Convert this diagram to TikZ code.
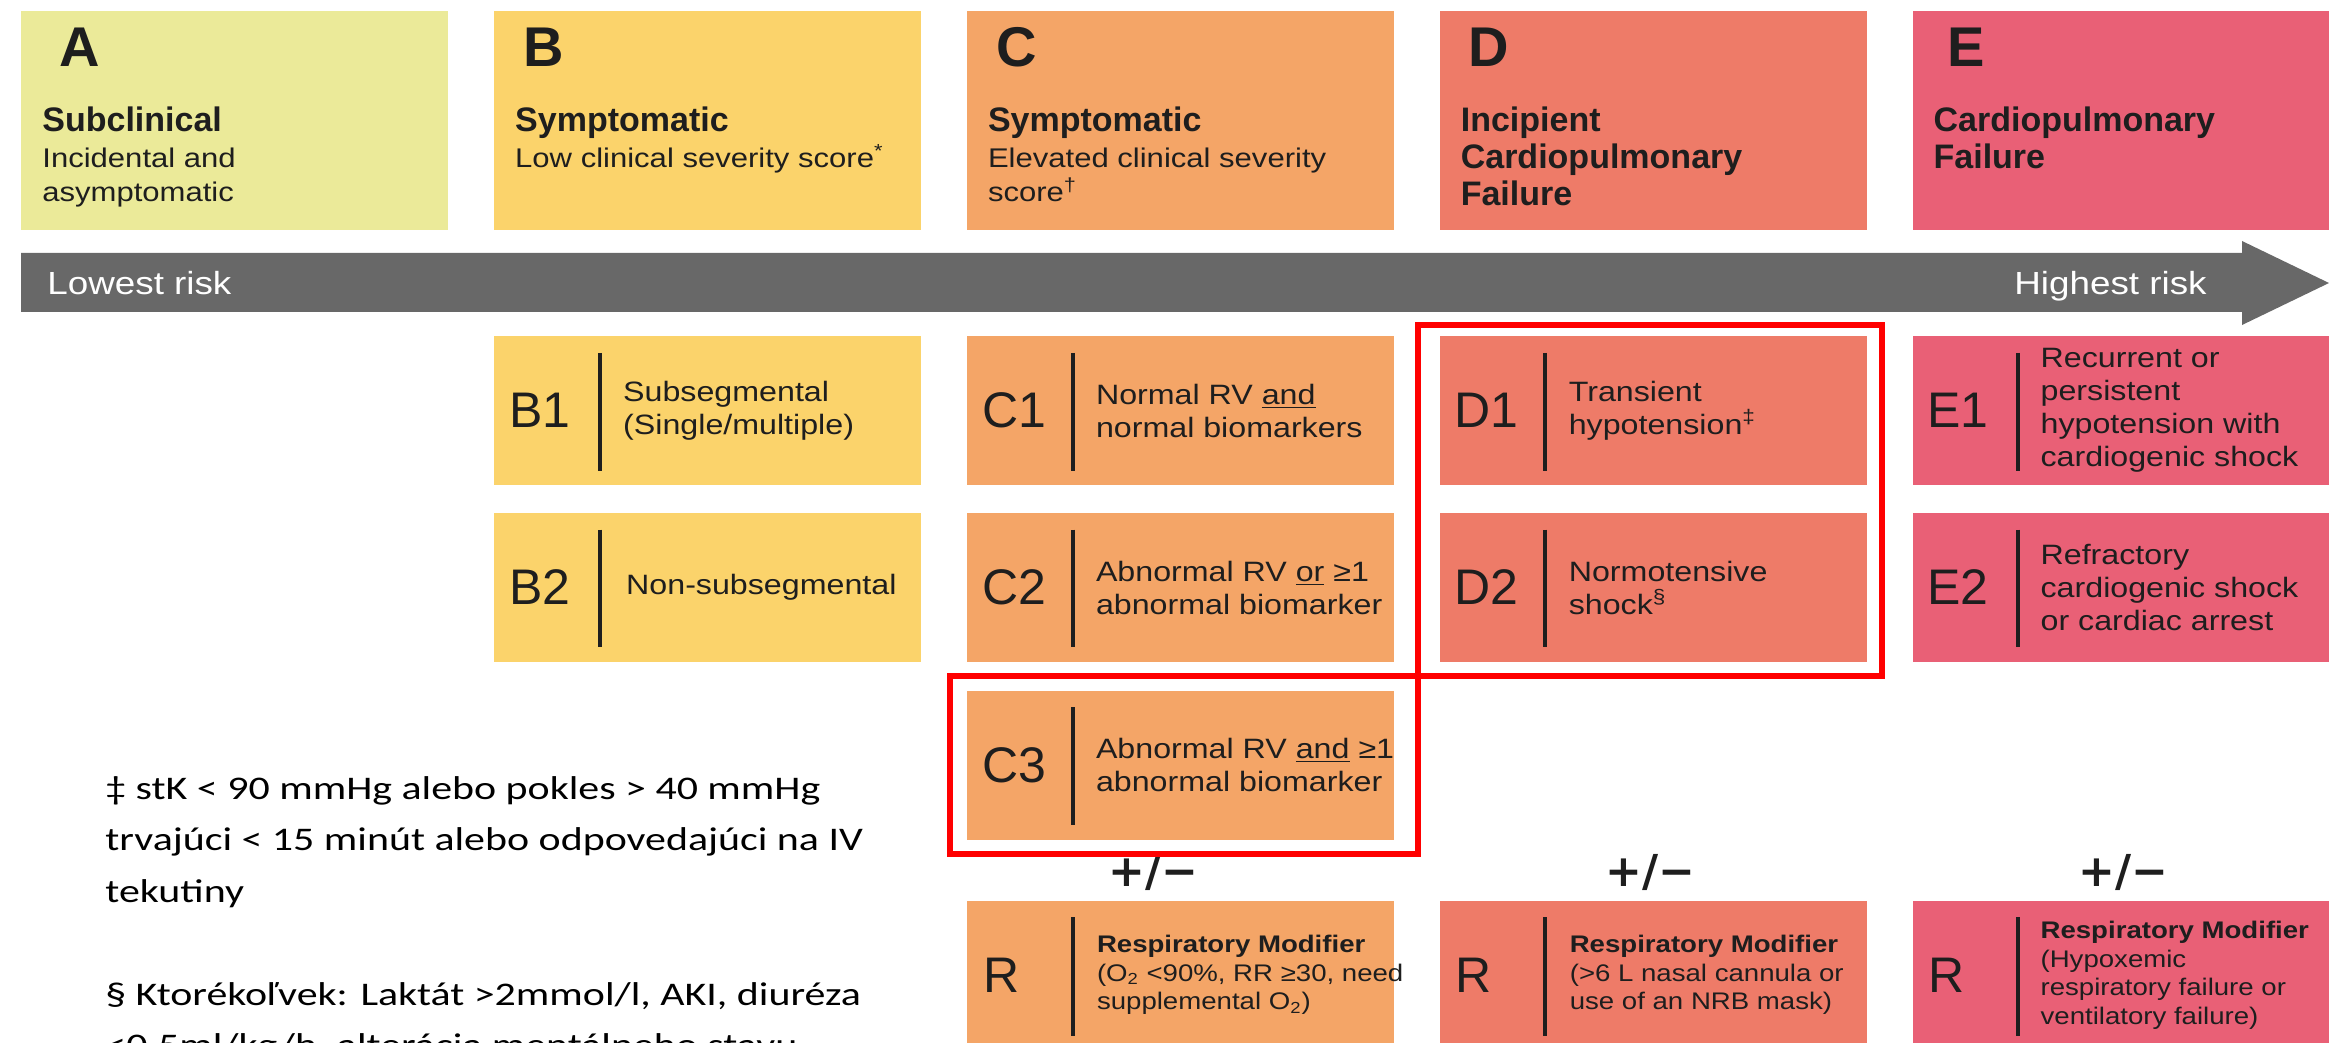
\documentclass[tikz,border=0pt]{standalone}
\usepackage{fontspec}
\setmainfont{Liberation Sans}
\newfontfamily\widesans{Liberation Sans}[FakeStretch=1.15]
\newfontfamily\notefont{Carlito}[FakeStretch=1.27]
\newfontfamily\pmfont{DejaVu Sans}
\usetikzlibrary{positioning}

\definecolor{colA}{HTML}{EBEA99}
\definecolor{colB}{HTML}{FBD36B}
\definecolor{colC}{HTML}{F4A567}
\definecolor{colD}{HTML}{EE7B68}
\definecolor{colE}{HTML}{E96076}
\definecolor{riskgray}{HTML}{686868}
\definecolor{ink}{HTML}{1E1E1E}

\begin{document}
\begin{tikzpicture}[x=0.5pt, y=-0.5pt, node distance=22.5pt]
    \tikzstyle{head} = [rectangle, inner sep=0pt, minimum width=213.5pt, minimum height=109.5pt]
    \tikzstyle{rowbox} = [rectangle, inner sep=0pt, minimum width=213.5pt, minimum height=74.5pt]
    \tikzstyle{letter} = [anchor=base west, inner sep=0pt, text=ink, font=\fontsize{28pt}{30pt}\selectfont\bfseries]
    \tikzstyle{title} = [anchor=base west, inner sep=0pt, align=left, text=ink, font=\fontsize{17pt}{18.5pt}\selectfont\bfseries]
    \tikzstyle{subtitle} = [anchor=base west, inner sep=0pt, align=left, text=ink, font=\widesans\fontsize{13.5pt}{17pt}\selectfont]
    \tikzstyle{tag} = [anchor=west, inner sep=0pt, text=ink, font=\fontsize{25pt}{27pt}\selectfont]
    \tikzstyle{vbar} = [line width=2pt, draw=ink]
    \tikzstyle{desc} = [anchor=west, inner sep=0pt, align=left, text=ink, font=\widesans\fontsize{14pt}{16.5pt}\selectfont]
    \tikzstyle{rdesc} = [desc, font=\widesans\fontsize{12pt}{14.25pt}\selectfont]
    \tikzstyle{pm} = [inner sep=0pt, text=ink, font=\pmfont\fontsize{22pt}{24pt}\selectfont\bfseries]
    \tikzstyle{redframe} = [draw=red, line width=3pt]
    \tikzstyle{risk} = [anchor=base west, inner sep=0pt, text=white, font=\widesans\fontsize{16pt}{18pt}\selectfont]
    \tikzstyle{note} = [anchor=base west, inner sep=0pt, align=left, font=\notefont\fontsize{16.5pt}{25.75pt}\selectfont]

    \useasboundingbox (0,0) rectangle (2329,1043);
    \clip (0,0) rectangle (2329,1043);
    \fill [white] (0,0) rectangle (2329,1043);

    % stages (multi-line texts sit on the baseline of their last line)
    \node [head, fill=colA, anchor=north west] (A) at (21,11) {};
    \node [head, fill=colB, right=of A] (B) {};
    \node [head, fill=colC, right=of B] (C) {};
    \node [head, fill=colD, right=of C] (D) {};
    \node [head, fill=colE, right=of D] (E) {};

    \node [letter] at ([xshift=19pt, yshift=-28pt]A.north west) {A};
    \node [title] at ([xshift=10.5pt, yshift=-60.5pt]A.north west) {Subclinical};
    \node [subtitle] at ([xshift=10.5pt, yshift=-95.5pt]A.north west) {Incidental and\\asymptomatic};

    \node [letter] at ([xshift=14.5pt, yshift=-28pt]B.north west) {B};
    \node [title] at ([xshift=10.5pt, yshift=-60.5pt]B.north west) {Symptomatic};
    \node [subtitle] at ([xshift=10.5pt, yshift=-78.5pt]B.north west) {Low clinical severity score\textsuperscript{*}};

    \node [letter] at ([xshift=14.5pt, yshift=-28pt]C.north west) {C};
    \node [title] at ([xshift=10.5pt, yshift=-60.5pt]C.north west) {Symptomatic};
    \node [subtitle] at ([xshift=10.5pt, yshift=-95.5pt]C.north west) {Elevated clinical severity\\score\textsuperscript{†}};

    \node [letter] at ([xshift=14.5pt, yshift=-28pt]D.north west) {D};
    \node [title] at ([xshift=10.5pt, yshift=-97.5pt]D.north west) {Incipient\\Cardiopulmonary\\Failure};

    \node [letter] at ([xshift=17.5pt, yshift=-28pt]E.north west) {E};
    \node [title] at ([xshift=10.5pt, yshift=-79pt]E.north west) {Cardiopulmonary\\Failure};

    % risk arrow
    \fill [riskgray] (21,253) -- (2242,253) -- (2242,241) -- (2329,283) -- (2242,325) -- (2242,312) -- (21,312) -- cycle;
    \node [risk] (low) at (47,294) {Lowest risk};
    \node [risk, anchor=base east] (high) at (2207,294) {Highest risk};

    % subclasses
    \node [rowbox, fill=colB, below=52.5pt of B] (b1) {};
    \node [rowbox, fill=colB, below=13.5pt of b1] (b2) {};
    \node [rowbox, fill=colC, below=52.5pt of C] (c1) {};
    \node [rowbox, fill=colC, below=13.5pt of c1] (c2) {};
    \node [rowbox, fill=colC, below=14pt of c2] (c3) {};
    \node [rowbox, fill=colD, below=52.5pt of D] (d1) {};
    \node [rowbox, fill=colD, below=13.5pt of d1] (d2) {};
    \node [rowbox, fill=colE, below=52.5pt of E] (e1) {};
    \node [rowbox, fill=colE, below=13.5pt of e1] (e2) {};
    \node [rowbox, fill=colC, below=30pt of c3] (rc) {};
    \node [rowbox, fill=colD, right=of rc] (rd) {};
    \node [rowbox, fill=colE, right=of rd] (re) {};

    \node [tag] at ([xshift=7.5pt]b1.west) {B1};
    \draw [vbar] ([xshift=53pt, yshift=-8.5pt]b1.north west) -- ([xshift=53pt, yshift=7.5pt]b1.south west);
    \node [desc] at ([xshift=64.5pt]b1.west) {Subsegmental\\(Single/multiple)};

    \node [tag] at ([xshift=7.5pt]b2.west) {B2};
    \draw [vbar] ([xshift=53pt, yshift=-8.5pt]b2.north west) -- ([xshift=53pt, yshift=7.5pt]b2.south west);
    \node [desc] at ([xshift=66pt]b2.west) {Non-subsegmental};

    \node [tag] at ([xshift=7.5pt]c1.west) {C1};
    \draw [vbar] ([xshift=53pt, yshift=-8.5pt]c1.north west) -- ([xshift=53pt, yshift=7.5pt]c1.south west);
    \node [desc] at ([xshift=64.5pt]c1.west) {Normal RV \underline{and}\\normal biomarkers};

    \node [tag] at ([xshift=7.5pt]c2.west) {C2};
    \draw [vbar] ([xshift=53pt, yshift=-8.5pt]c2.north west) -- ([xshift=53pt, yshift=7.5pt]c2.south west);
    \node [desc] at ([xshift=64.5pt]c2.west) {Abnormal RV \underline{or} ≥1\\abnormal biomarker};

    \node [tag] at ([xshift=7.5pt]c3.west) {C3};
    \draw [vbar] ([xshift=53pt, yshift=-8.5pt]c3.north west) -- ([xshift=53pt, yshift=7.5pt]c3.south west);
    \node [desc] at ([xshift=64.5pt]c3.west) {Abnormal RV \underline{and} ≥1\\abnormal biomarker};

    \node [tag] at ([xshift=7.5pt]d1.west) {D1};
    \draw [vbar] ([xshift=53pt, yshift=-8.5pt]d1.north west) -- ([xshift=53pt, yshift=7.5pt]d1.south west);
    \node [desc] at ([xshift=64.5pt]d1.west) {Transient\\hypotension\textsuperscript{‡}};

    \node [tag] at ([xshift=7.5pt]d2.west) {D2};
    \draw [vbar] ([xshift=53pt, yshift=-8.5pt]d2.north west) -- ([xshift=53pt, yshift=7.5pt]d2.south west);
    \node [desc] at ([xshift=64.5pt]d2.west) {Normotensive\\shock\textsuperscript{§}};

    \node [tag] at ([xshift=7.5pt]e1.west) {E1};
    \draw [vbar] ([xshift=53pt, yshift=-8.5pt]e1.north west) -- ([xshift=53pt, yshift=7.5pt]e1.south west);
    \node [desc] at ([xshift=64pt]e1.west) {Recurrent or\\persistent\\hypotension with\\cardiogenic shock};

    \node [tag] at ([xshift=7.5pt]e2.west) {E2};
    \draw [vbar] ([xshift=53pt, yshift=-8.5pt]e2.north west) -- ([xshift=53pt, yshift=7.5pt]e2.south west);
    \node [desc] at ([xshift=64pt]e2.west) {Refractory\\cardiogenic shock\\or cardiac arrest};

    % respiratory modifier
    \node [pm] at ([xshift=-13.5pt, yshift=14pt]rc.north) {+/−};
    \node [pm] at ([xshift=-1.5pt, yshift=14pt]rd.north) {+/−};
    \node [pm] at ([xshift=-1.5pt, yshift=14pt]re.north) {+/−};

    \node [tag] at ([xshift=8pt]rc.west) {R};
    \draw [vbar] ([xshift=53pt, yshift=-8.5pt]rc.north west) -- ([xshift=53pt, yshift=7pt]rc.south west);
    \node [rdesc] at ([xshift=65pt]rc.west) {\textbf{Respiratory Modifier}\\(O\textsubscript{2} <90\%, RR ≥30, need\\supplemental O\textsubscript{2})};

    \node [tag] at ([xshift=8pt]rd.west) {R};
    \draw [vbar] ([xshift=53pt, yshift=-8.5pt]rd.north west) -- ([xshift=53pt, yshift=7pt]rd.south west);
    \node [rdesc] at ([xshift=65pt]rd.west) {\textbf{Respiratory Modifier}\\(>6 L nasal cannula or\\use of an NRB mask)};

    \node [tag] at ([xshift=8pt]re.west) {R};
    \draw [vbar] ([xshift=53pt, yshift=-8.5pt]re.north west) -- ([xshift=53pt, yshift=7pt]re.south west);
    \node [rdesc] at ([xshift=64pt]re.west) {\textbf{Respiratory Modifier}\\(Hypoxemic\\respiratory failure or\\ventilatory failure)};

    % highlighted classes
    \draw [redframe] ([xshift=-10.5pt, yshift=5.5pt]d1.north west) rectangle ([xshift=7.5pt, yshift=-7pt]d2.south east);
    \draw [redframe] ([xshift=-8.5pt, yshift=-7pt]c3.south west) rectangle ([xshift=12pt, yshift=7pt]c3.north east);

    % footnotes
    \node [note] (notes) at (105,1056.5) {‡ stK < 90 mmHg alebo pokles > 40 mmHg\\trvajúci < 15 minút alebo odpovedajúci na IV\\tekutiny\\[25.75pt]§ Ktorékoľvek: Laktát >2mmol/l, AKI, diuréza\\<0.5ml/kg/h, alterácia mentálneho stavu};
\end{tikzpicture}
\end{document}
